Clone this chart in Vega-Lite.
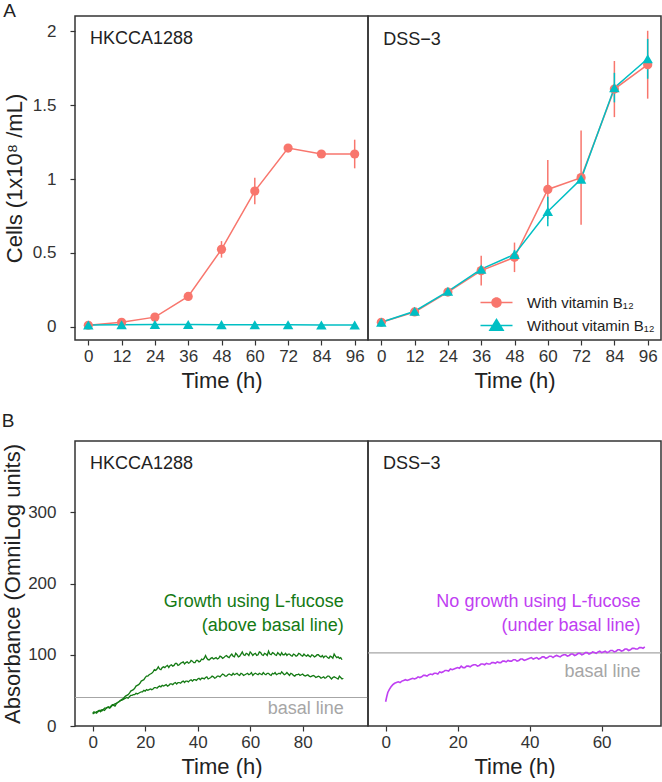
{
  "$schema": "https://vega.github.io/schema/vega-lite/v6.json",
  "padding": {"left": 0, "top": 1, "right": 0, "bottom": 0},
  "columns": 2,
  "spacing": {"row": 101, "column": 0},
  "bounds": "flush",
  "resolve": {"scale": {"x": "independent", "y": "independent", "color": "independent", "shape": "independent"}},
  "datasets": {
    "growth": [
      {"strain": "HKCCA1288", "series": "With vitamin B₁₂", "t": 0, "cells": 0.01, "sd": 0.005},
      {"strain": "HKCCA1288", "series": "With vitamin B₁₂", "t": 12, "cells": 0.03, "sd": 0.01},
      {"strain": "HKCCA1288", "series": "With vitamin B₁₂", "t": 24, "cells": 0.065, "sd": 0.01},
      {"strain": "HKCCA1288", "series": "With vitamin B₁₂", "t": 36, "cells": 0.205, "sd": 0.01},
      {"strain": "HKCCA1288", "series": "With vitamin B₁₂", "t": 48, "cells": 0.524, "sd": 0.056},
      {"strain": "HKCCA1288", "series": "With vitamin B₁₂", "t": 60, "cells": 0.919, "sd": 0.09},
      {"strain": "HKCCA1288", "series": "With vitamin B₁₂", "t": 72, "cells": 1.21, "sd": 0.01},
      {"strain": "HKCCA1288", "series": "With vitamin B₁₂", "t": 84, "cells": 1.17, "sd": 0.01},
      {"strain": "HKCCA1288", "series": "With vitamin B₁₂", "t": 96, "cells": 1.17, "sd": 0.097},
      {"strain": "HKCCA1288", "series": "Without vitamin B₁₂", "t": 0, "cells": 0.012, "sd": 0.003},
      {"strain": "HKCCA1288", "series": "Without vitamin B₁₂", "t": 12, "cells": 0.013, "sd": 0.003},
      {"strain": "HKCCA1288", "series": "Without vitamin B₁₂", "t": 24, "cells": 0.015, "sd": 0.003},
      {"strain": "HKCCA1288", "series": "Without vitamin B₁₂", "t": 36, "cells": 0.015, "sd": 0.003},
      {"strain": "HKCCA1288", "series": "Without vitamin B₁₂", "t": 48, "cells": 0.014, "sd": 0.003},
      {"strain": "HKCCA1288", "series": "Without vitamin B₁₂", "t": 60, "cells": 0.013, "sd": 0.003},
      {"strain": "HKCCA1288", "series": "Without vitamin B₁₂", "t": 72, "cells": 0.013, "sd": 0.003},
      {"strain": "HKCCA1288", "series": "Without vitamin B₁₂", "t": 84, "cells": 0.012, "sd": 0.003},
      {"strain": "HKCCA1288", "series": "Without vitamin B₁₂", "t": 96, "cells": 0.012, "sd": 0.003},
      {"strain": "DSS-3", "series": "With vitamin B₁₂", "t": 0, "cells": 0.03, "sd": 0.01},
      {"strain": "DSS-3", "series": "With vitamin B₁₂", "t": 12, "cells": 0.1, "sd": 0.01},
      {"strain": "DSS-3", "series": "With vitamin B₁₂", "t": 24, "cells": 0.235, "sd": 0.02},
      {"strain": "DSS-3", "series": "With vitamin B₁₂", "t": 36, "cells": 0.38, "sd": 0.1},
      {"strain": "DSS-3", "series": "With vitamin B₁₂", "t": 48, "cells": 0.47, "sd": 0.1},
      {"strain": "DSS-3", "series": "With vitamin B₁₂", "t": 60, "cells": 0.93, "sd": 0.2},
      {"strain": "DSS-3", "series": "With vitamin B₁₂", "t": 72, "cells": 1.01, "sd": 0.32},
      {"strain": "DSS-3", "series": "With vitamin B₁₂", "t": 84, "cells": 1.61, "sd": 0.19},
      {"strain": "DSS-3", "series": "With vitamin B₁₂", "t": 96, "cells": 1.775, "sd": 0.23},
      {"strain": "DSS-3", "series": "Without vitamin B₁₂", "t": 0, "cells": 0.03, "sd": 0.01},
      {"strain": "DSS-3", "series": "Without vitamin B₁₂", "t": 12, "cells": 0.105, "sd": 0.01},
      {"strain": "DSS-3", "series": "Without vitamin B₁₂", "t": 24, "cells": 0.24, "sd": 0.02},
      {"strain": "DSS-3", "series": "Without vitamin B₁₂", "t": 36, "cells": 0.39, "sd": 0.02},
      {"strain": "DSS-3", "series": "Without vitamin B₁₂", "t": 48, "cells": 0.49, "sd": 0.03},
      {"strain": "DSS-3", "series": "Without vitamin B₁₂", "t": 60, "cells": 0.78, "sd": 0.1},
      {"strain": "DSS-3", "series": "Without vitamin B₁₂", "t": 72, "cells": 1.0, "sd": 0.02},
      {"strain": "DSS-3", "series": "Without vitamin B₁₂", "t": 84, "cells": 1.62, "sd": 0.1},
      {"strain": "DSS-3", "series": "Without vitamin B₁₂", "t": 96, "cells": 1.815, "sd": 0.135}
    ],
    "hkB": [
      {"rep":"a","t":0,"v":18},{"rep":"a","t":1,"v":19},{"rep":"a","t":2,"v":21},{"rep":"a","t":3,"v":20},{"rep":"a","t":4,"v":23},{"rep":"a","t":5,"v":24},{"rep":"a","t":6,"v":26},{"rep":"a","t":7,"v":27},{"rep":"a","t":8,"v":29},{"rep":"a","t":9,"v":31},
      {"rep":"a","t":10,"v":34},{"rep":"a","t":11,"v":37},{"rep":"a","t":12,"v":40},{"rep":"a","t":13,"v":43},{"rep":"a","t":14,"v":46},{"rep":"a","t":15,"v":50},{"rep":"a","t":16,"v":53},{"rep":"a","t":17,"v":57},{"rep":"a","t":18,"v":60},{"rep":"a","t":19,"v":64},
      {"rep":"a","t":20,"v":68},{"rep":"a","t":21,"v":70},{"rep":"a","t":22,"v":73},{"rep":"a","t":23,"v":76},{"rep":"a","t":24,"v":78},{"rep":"a","t":25,"v":83},{"rep":"a","t":26,"v":79},{"rep":"a","t":27,"v":83},{"rep":"a","t":28,"v":84},{"rep":"a","t":29,"v":82},
      {"rep":"a","t":30,"v":86},{"rep":"a","t":31,"v":85},{"rep":"a","t":32,"v":88},{"rep":"a","t":33,"v":86},{"rep":"a","t":34,"v":89},{"rep":"a","t":35,"v":87},{"rep":"a","t":36,"v":90},{"rep":"a","t":37,"v":89},{"rep":"a","t":38,"v":91},{"rep":"a","t":39,"v":89},
      {"rep":"a","t":40,"v":92},{"rep":"a","t":41,"v":91},{"rep":"a","t":42,"v":93},{"rep":"a","t":43,"v":99},{"rep":"a","t":44,"v":93},{"rep":"a","t":45,"v":95},{"rep":"a","t":46,"v":94},{"rep":"a","t":47,"v":96},{"rep":"a","t":48,"v":95},{"rep":"a","t":49,"v":97},
      {"rep":"a","t":50,"v":96},{"rep":"a","t":51,"v":99},{"rep":"a","t":52,"v":96},{"rep":"a","t":53,"v":101},{"rep":"a","t":54,"v":97},{"rep":"a","t":55,"v":100},{"rep":"a","t":56,"v":98},{"rep":"a","t":57,"v":104},{"rep":"a","t":58,"v":99},{"rep":"a","t":59,"v":101},
      {"rep":"a","t":60,"v":104},{"rep":"a","t":61,"v":99},{"rep":"a","t":62,"v":102},{"rep":"a","t":63,"v":100},{"rep":"a","t":64,"v":103},{"rep":"a","t":65,"v":99},{"rep":"a","t":66,"v":101},{"rep":"a","t":67,"v":105},{"rep":"a","t":68,"v":100},{"rep":"a","t":69,"v":102},
      {"rep":"a","t":70,"v":99},{"rep":"a","t":71,"v":101},{"rep":"a","t":72,"v":103},{"rep":"a","t":73,"v":100},{"rep":"a","t":74,"v":99},{"rep":"a","t":75,"v":101},{"rep":"a","t":76,"v":98},{"rep":"a","t":77,"v":100},{"rep":"a","t":78,"v":99},{"rep":"a","t":79,"v":101},
      {"rep":"a","t":80,"v":98},{"rep":"a","t":81,"v":99},{"rep":"a","t":82,"v":100},{"rep":"a","t":83,"v":97},{"rep":"a","t":84,"v":99},{"rep":"a","t":85,"v":98},{"rep":"a","t":86,"v":100},{"rep":"a","t":87,"v":97},{"rep":"a","t":88,"v":96},{"rep":"a","t":89,"v":98},
      {"rep":"a","t":90,"v":95},{"rep":"a","t":91,"v":97},{"rep":"a","t":92,"v":101},{"rep":"a","t":93,"v":96},{"rep":"a","t":94,"v":95},{"rep":"a","t":95,"v":93},
      {"rep":"a","t":0.5,"v":20},{"rep":"a","t":1.5,"v":18},{"rep":"a","t":2.5,"v":22},{"rep":"a","t":3.5,"v":23},{"rep":"a","t":4.5,"v":22},{"rep":"a","t":5.5,"v":26},{"rep":"a","t":6.5,"v":25},{"rep":"a","t":7.5,"v":29},{"rep":"a","t":8.5,"v":28},{"rep":"a","t":9.5,"v":33},
      {"rep":"a","t":10.5,"v":35},{"rep":"a","t":11.5,"v":38},{"rep":"a","t":12.5,"v":42},{"rep":"a","t":13.5,"v":44},{"rep":"a","t":14.5,"v":49},{"rep":"a","t":15.5,"v":51},{"rep":"a","t":16.5,"v":56},{"rep":"a","t":17.5,"v":58},{"rep":"a","t":18.5,"v":63},{"rep":"a","t":19.5,"v":65},
      {"rep":"a","t":20.5,"v":70},{"rep":"a","t":21.5,"v":72},{"rep":"a","t":22.5,"v":74},{"rep":"a","t":23.5,"v":79},{"rep":"a","t":24.5,"v":80},{"rep":"a","t":25.5,"v":80},{"rep":"a","t":26.5,"v":82},{"rep":"a","t":27.5,"v":82},{"rep":"a","t":28.5,"v":85},{"rep":"a","t":29.5,"v":85},
      {"rep":"a","t":30.5,"v":84},{"rep":"a","t":31.5,"v":88},{"rep":"a","t":32.5,"v":85},{"rep":"a","t":33.5,"v":88},{"rep":"a","t":34.5,"v":90},{"rep":"a","t":35.5,"v":89},{"rep":"a","t":36.5,"v":88},{"rep":"a","t":37.5,"v":92},{"rep":"a","t":38.5,"v":89},{"rep":"a","t":39.5,"v":92},
      {"rep":"a","t":40.5,"v":90},{"rep":"a","t":41.5,"v":94},{"rep":"a","t":42.5,"v":95},{"rep":"a","t":43.5,"v":95},{"rep":"a","t":44.5,"v":93},{"rep":"a","t":45.5,"v":96},{"rep":"a","t":46.5,"v":95},{"rep":"a","t":47.5,"v":94},{"rep":"a","t":48.5,"v":98},{"rep":"a","t":49.5,"v":95},
      {"rep":"a","t":50.5,"v":98},{"rep":"a","t":51.5,"v":97},{"rep":"a","t":52.5,"v":99},{"rep":"a","t":53.5,"v":98},{"rep":"a","t":54.5,"v":102},{"rep":"a","t":55.5,"v":97},{"rep":"a","t":56.5,"v":101},{"rep":"a","t":57.5,"v":100},{"rep":"a","t":58.5,"v":102},{"rep":"a","t":59.5,"v":99},
      {"rep":"a","t":60.5,"v":102},{"rep":"a","t":61.5,"v":101},{"rep":"a","t":62.5,"v":99},{"rep":"a","t":63.5,"v":104},{"rep":"a","t":64.5,"v":100},{"rep":"a","t":65.5,"v":102},{"rep":"a","t":66.5,"v":99},{"rep":"a","t":67.5,"v":101},{"rep":"a","t":68.5,"v":103},{"rep":"a","t":69.5,"v":100},
      {"rep":"a","t":70.5,"v":103},{"rep":"a","t":71.5,"v":99},{"rep":"a","t":72.5,"v":100},{"rep":"a","t":73.5,"v":102},{"rep":"a","t":74.5,"v":101},{"rep":"a","t":75.5,"v":99},{"rep":"a","t":76.5,"v":101},{"rep":"a","t":77.5,"v":98},{"rep":"a","t":78.5,"v":102},{"rep":"a","t":79.5,"v":99},
      {"rep":"a","t":80.5,"v":101},{"rep":"a","t":81.5,"v":98},{"rep":"a","t":82.5,"v":98},{"rep":"a","t":83.5,"v":100},{"rep":"a","t":84.5,"v":97},{"rep":"a","t":85.5,"v":100},{"rep":"a","t":86.5,"v":98},{"rep":"a","t":87.5,"v":99},{"rep":"a","t":88.5,"v":98},{"rep":"a","t":89.5,"v":96},
      {"rep":"a","t":90.5,"v":98},{"rep":"a","t":91.5,"v":95},{"rep":"a","t":92.5,"v":98},{"rep":"a","t":93.5,"v":97},{"rep":"a","t":94.5,"v":96},
      {"rep":"b","t":0,"v":17},{"rep":"b","t":1,"v":19},{"rep":"b","t":2,"v":20},{"rep":"b","t":3,"v":22},{"rep":"b","t":4,"v":23},{"rep":"b","t":5,"v":25},{"rep":"b","t":6,"v":27},{"rep":"b","t":7,"v":28},{"rep":"b","t":8,"v":30},{"rep":"b","t":9,"v":32},
      {"rep":"b","t":10,"v":34},{"rep":"b","t":11,"v":36},{"rep":"b","t":12,"v":38},{"rep":"b","t":13,"v":40},{"rep":"b","t":14,"v":41},{"rep":"b","t":15,"v":43},{"rep":"b","t":16,"v":44},{"rep":"b","t":17,"v":45},{"rep":"b","t":18,"v":47},{"rep":"b","t":19,"v":48},
      {"rep":"b","t":20,"v":49},{"rep":"b","t":21,"v":50},{"rep":"b","t":22,"v":52},{"rep":"b","t":23,"v":52},{"rep":"b","t":24,"v":54},{"rep":"b","t":25,"v":55},{"rep":"b","t":26,"v":55},{"rep":"b","t":27,"v":56},{"rep":"b","t":28,"v":58},{"rep":"b","t":29,"v":57},
      {"rep":"b","t":30,"v":59},{"rep":"b","t":31,"v":60},{"rep":"b","t":32,"v":59},{"rep":"b","t":33,"v":61},{"rep":"b","t":34,"v":62},{"rep":"b","t":35,"v":61},{"rep":"b","t":36,"v":63},{"rep":"b","t":37,"v":64},{"rep":"b","t":38,"v":63},{"rep":"b","t":39,"v":65},
      {"rep":"b","t":40,"v":66},{"rep":"b","t":41,"v":65},{"rep":"b","t":42,"v":67},{"rep":"b","t":43,"v":68},{"rep":"b","t":44,"v":66},{"rep":"b","t":45,"v":68},{"rep":"b","t":46,"v":69},{"rep":"b","t":47,"v":68},{"rep":"b","t":48,"v":70},{"rep":"b","t":49,"v":71},
      {"rep":"b","t":50,"v":72},{"rep":"b","t":51,"v":70},{"rep":"b","t":52,"v":73},{"rep":"b","t":53,"v":71},{"rep":"b","t":54,"v":72},{"rep":"b","t":55,"v":74},{"rep":"b","t":56,"v":71},{"rep":"b","t":57,"v":73},{"rep":"b","t":58,"v":72},{"rep":"b","t":59,"v":74},
      {"rep":"b","t":60,"v":73},{"rep":"b","t":61,"v":71},{"rep":"b","t":62,"v":74},{"rep":"b","t":63,"v":72},{"rep":"b","t":64,"v":73},{"rep":"b","t":65,"v":75},{"rep":"b","t":66,"v":72},{"rep":"b","t":67,"v":74},{"rep":"b","t":68,"v":71},{"rep":"b","t":69,"v":73},
      {"rep":"b","t":70,"v":72},{"rep":"b","t":71,"v":74},{"rep":"b","t":72,"v":76},{"rep":"b","t":73,"v":72},{"rep":"b","t":74,"v":75},{"rep":"b","t":75,"v":71},{"rep":"b","t":76,"v":73},{"rep":"b","t":77,"v":70},{"rep":"b","t":78,"v":72},{"rep":"b","t":79,"v":71},
      {"rep":"b","t":80,"v":73},{"rep":"b","t":81,"v":70},{"rep":"b","t":82,"v":72},{"rep":"b","t":83,"v":69},{"rep":"b","t":84,"v":71},{"rep":"b","t":85,"v":68},{"rep":"b","t":86,"v":70},{"rep":"b","t":87,"v":67},{"rep":"b","t":88,"v":69},{"rep":"b","t":89,"v":68},
      {"rep":"b","t":90,"v":70},{"rep":"b","t":91,"v":66},{"rep":"b","t":92,"v":69},{"rep":"b","t":93,"v":67},{"rep":"b","t":94,"v":70},{"rep":"b","t":95,"v":66},
      {"rep":"b","t":0.5,"v":18},{"rep":"b","t":1.5,"v":20},{"rep":"b","t":2.5,"v":21},{"rep":"b","t":3.5,"v":21},{"rep":"b","t":4.5,"v":25},{"rep":"b","t":5.5,"v":26},{"rep":"b","t":6.5,"v":26},{"rep":"b","t":7.5,"v":30},{"rep":"b","t":8.5,"v":31},{"rep":"b","t":9.5,"v":33},
      {"rep":"b","t":10.5,"v":36},{"rep":"b","t":11.5,"v":37},{"rep":"b","t":12.5,"v":39},{"rep":"b","t":13.5,"v":39},{"rep":"b","t":14.5,"v":43},{"rep":"b","t":15.5,"v":44},{"rep":"b","t":16.5,"v":46},{"rep":"b","t":17.5,"v":46},{"rep":"b","t":18.5,"v":48},{"rep":"b","t":19.5,"v":50},
      {"rep":"b","t":20.5,"v":51},{"rep":"b","t":21.5,"v":51},{"rep":"b","t":22.5,"v":51},{"rep":"b","t":23.5,"v":54},{"rep":"b","t":24.5,"v":53},{"rep":"b","t":25.5,"v":56},{"rep":"b","t":26.5,"v":57},{"rep":"b","t":27.5,"v":57},{"rep":"b","t":28.5,"v":56},{"rep":"b","t":29.5,"v":59},
      {"rep":"b","t":30.5,"v":58},{"rep":"b","t":31.5,"v":61},{"rep":"b","t":32.5,"v":61},{"rep":"b","t":33.5,"v":60},{"rep":"b","t":34.5,"v":63},{"rep":"b","t":35.5,"v":63},{"rep":"b","t":36.5,"v":62},{"rep":"b","t":37.5,"v":65},{"rep":"b","t":38.5,"v":65},{"rep":"b","t":39.5,"v":64},
      {"rep":"b","t":40.5,"v":67},{"rep":"b","t":41.5,"v":67},{"rep":"b","t":42.5,"v":66},{"rep":"b","t":43.5,"v":69},{"rep":"b","t":44.5,"v":67},{"rep":"b","t":45.5,"v":70},{"rep":"b","t":46.5,"v":67},{"rep":"b","t":47.5,"v":70},{"rep":"b","t":48.5,"v":69},{"rep":"b","t":49.5,"v":73},
      {"rep":"b","t":50.5,"v":70},{"rep":"b","t":51.5,"v":72},{"rep":"b","t":52.5,"v":72},{"rep":"b","t":53.5,"v":74},{"rep":"b","t":54.5,"v":73},{"rep":"b","t":55.5,"v":72},{"rep":"b","t":56.5,"v":74},{"rep":"b","t":57.5,"v":71},{"rep":"b","t":58.5,"v":73},{"rep":"b","t":59.5,"v":72},
      {"rep":"b","t":60.5,"v":75},{"rep":"b","t":61.5,"v":73},{"rep":"b","t":62.5,"v":73},{"rep":"b","t":63.5,"v":74},{"rep":"b","t":64.5,"v":72},{"rep":"b","t":65.5,"v":73},{"rep":"b","t":66.5,"v":74},{"rep":"b","t":67.5,"v":72},{"rep":"b","t":68.5,"v":74},{"rep":"b","t":69.5,"v":75},
      {"rep":"b","t":70.5,"v":73},{"rep":"b","t":71.5,"v":73},{"rep":"b","t":72.5,"v":74},{"rep":"b","t":73.5,"v":73},{"rep":"b","t":74.5,"v":73},{"rep":"b","t":75.5,"v":74},{"rep":"b","t":76.5,"v":71},{"rep":"b","t":77.5,"v":72},{"rep":"b","t":78.5,"v":73},{"rep":"b","t":79.5,"v":72},
      {"rep":"b","t":80.5,"v":71},{"rep":"b","t":81.5,"v":71},{"rep":"b","t":82.5,"v":70},{"rep":"b","t":83.5,"v":70},{"rep":"b","t":84.5,"v":70},{"rep":"b","t":85.5,"v":69},{"rep":"b","t":86.5,"v":69},{"rep":"b","t":87.5,"v":68},{"rep":"b","t":88.5,"v":67},{"rep":"b","t":89.5,"v":70},
      {"rep":"b","t":90.5,"v":68},{"rep":"b","t":91.5,"v":68},{"rep":"b","t":92.5,"v":68},{"rep":"b","t":93.5,"v":66},{"rep":"b","t":94.5,"v":68},{"rep":"b","t":95.5,"v":67}
    ],
    "dssB": [
      {"t":0,"v":34},{"t":0.3,"v":41},{"t":0.6,"v":47},{"t":1,"v":51},{"t":1.5,"v":55},{"t":2,"v":58},{"t":3,"v":61},{"t":4,"v":61},{"t":5,"v":64},{"t":6,"v":64},
      {"t":7,"v":66},{"t":8,"v":66},{"t":9,"v":69},{"t":10,"v":69},{"t":11,"v":71},{"t":12,"v":72},{"t":13,"v":72},{"t":14,"v":74},{"t":15,"v":76},{"t":16,"v":76},
      {"t":17,"v":78},{"t":18,"v":80},{"t":19,"v":80},{"t":20,"v":82},{"t":21,"v":84},{"t":22,"v":82},{"t":23,"v":84},{"t":24,"v":85},{"t":25,"v":86},{"t":26,"v":85},
      {"t":27,"v":87},{"t":28,"v":88},{"t":29,"v":87},{"t":30,"v":89},{"t":31,"v":90},{"t":32,"v":89},{"t":33,"v":91},{"t":34,"v":92},{"t":35,"v":91},{"t":36,"v":93},
      {"t":37,"v":92},{"t":38,"v":94},{"t":39,"v":93},{"t":40,"v":95},{"t":41,"v":94},{"t":42,"v":96},{"t":43,"v":95},{"t":44,"v":97},{"t":45,"v":96},{"t":46,"v":98},
      {"t":47,"v":98},{"t":48,"v":98},{"t":49,"v":99},{"t":50,"v":100},{"t":51,"v":99},{"t":52,"v":101},{"t":53,"v":100},{"t":54,"v":102},{"t":55,"v":101},{"t":56,"v":103},
      {"t":57,"v":102},{"t":58,"v":103},{"t":59,"v":104},{"t":60,"v":103},{"t":61,"v":105},{"t":62,"v":104},{"t":63,"v":106},{"t":64,"v":105},{"t":65,"v":107},{"t":66,"v":106},
      {"t":67,"v":108},{"t":68,"v":107},{"t":69,"v":109},{"t":70,"v":108},{"t":71,"v":110},{"t":72,"v":111},
      {"t":2.5,"v":60},{"t":3.5,"v":62},{"t":4.5,"v":63},{"t":5.5,"v":65},{"t":6.5,"v":65},{"t":7.5,"v":67},{"t":8.5,"v":67},{"t":9.5,"v":68},{"t":10.5,"v":71},{"t":11.5,"v":70},
      {"t":12.5,"v":73},{"t":13.5,"v":74},{"t":14.5,"v":73},{"t":15.5,"v":75},{"t":16.5,"v":78},{"t":17.5,"v":77},{"t":18.5,"v":79},{"t":19.5,"v":81},{"t":20.5,"v":81},{"t":21.5,"v":82},
      {"t":22.5,"v":84},{"t":23.5,"v":83},{"t":24.5,"v":86},{"t":25.5,"v":84},{"t":26.5,"v":87},{"t":27.5,"v":86},{"t":28.5,"v":87},{"t":29.5,"v":89},{"t":30.5,"v":88},{"t":31.5,"v":89},
      {"t":32.5,"v":91},{"t":33.5,"v":90},{"t":34.5,"v":91},{"t":35.5,"v":93},{"t":36.5,"v":91},{"t":37.5,"v":94},{"t":38.5,"v":92},{"t":39.5,"v":94},{"t":40.5,"v":96},{"t":41.5,"v":95},
      {"t":42.5,"v":94},{"t":43.5,"v":97},{"t":44.5,"v":95},{"t":45.5,"v":98},{"t":46.5,"v":96},{"t":47.5,"v":99},{"t":48.5,"v":97},{"t":49.5,"v":100},{"t":50.5,"v":98},{"t":51.5,"v":101},
      {"t":52.5,"v":99},{"t":53.5,"v":102},{"t":54.5,"v":100},{"t":55.5,"v":103},{"t":56.5,"v":101},{"t":57.5,"v":104},{"t":58.5,"v":102},{"t":59.5,"v":105},{"t":60.5,"v":104},{"t":61.5,"v":103},
      {"t":62.5,"v":106},{"t":63.5,"v":104},{"t":64.5,"v":107},{"t":65.5,"v":105},{"t":66.5,"v":108},{"t":67.5,"v":106},{"t":68.5,"v":109},{"t":69.5,"v":108},{"t":70.5,"v":110},{"t":71.5,"v":109}
    ]
  },
  "concat": [
    {
      "width": 293, "height": 324,
      "title": {"text": "A", "offset": -5},
      "layer": [
        {
          "data": {"name": "growth"},
          "transform": [{"filter": "datum.strain === 'HKCCA1288'"}],
          "encoding": {
            "x": {"field": "t", "type": "quantitative", "scale": {"domain": [-4.8, 100.8], "nice": false, "zero": false}, "axis": {"values": [0, 12, 24, 36, 48, 60, 72, 84, 96], "title": "Time (h)", "labelOverlap": false}},
            "y": {"field": "cells", "type": "quantitative", "scale": {"domain": [-0.09, 2.105], "nice": false, "zero": false}, "axis": {"values": [0, 0.5, 1, 1.5, 2], "format": "~g", "title": "Cells (1x10⁸ /mL)", "titlePadding": 6}},
            "color": {"field": "series", "type": "nominal", "scale": {"domain": ["With vitamin B₁₂", "Without vitamin B₁₂"], "range": ["#F8766D", "#00BFC4"]}, "legend": null}
          },
          "layer": [
            {"mark": {"type": "line", "strokeWidth": 1.5}},
            {"mark": {"type": "errorbar", "thickness": 1.5}, "encoding": {"yError": {"field": "sd"}}},
            {"transform": [{"filter": "datum.series === 'With vitamin B₁₂'"}], "mark": {"type": "point", "shape": "circle", "filled": true, "size": 85, "opacity": 1}},
            {"transform": [{"filter": "datum.series === 'Without vitamin B₁₂'"}], "mark": {"type": "point", "shape": "triangle-up", "filled": true, "size": 110, "opacity": 1}}
          ]
        },
        {
          "data": {"values": [{}]},
          "mark": {"type": "text", "text": "HKCCA1288", "fontSize": 18, "align": "left", "baseline": "middle", "color": "#222222"},
          "encoding": {
            "x": {"datum": 0.6, "type": "quantitative", "axis": {"values": [0, 12, 24, 36, 48, 60, 72, 84, 96], "title": "Time (h)", "labelOverlap": false}},
            "y": {"datum": 1.95, "type": "quantitative", "axis": {"values": [0, 0.5, 1, 1.5, 2], "format": "~g", "title": "Cells (1x10⁸ /mL)", "titlePadding": 6}}
          }
        }
      ]
    },
    {
      "width": 293, "height": 324,
      "layer": [
        {
          "data": {"name": "growth"},
          "transform": [{"filter": "datum.strain === 'DSS-3'"}],
          "encoding": {
            "x": {"field": "t", "type": "quantitative", "scale": {"domain": [-4.8, 100.8], "nice": false, "zero": false}, "axis": {"values": [0, 12, 24, 36, 48, 60, 72, 84, 96], "title": "Time (h)", "labelOverlap": false}},
            "y": {"field": "cells", "type": "quantitative", "scale": {"domain": [-0.09, 2.105], "nice": false, "zero": false}, "axis": null},
            "color": {"field": "series", "type": "nominal", "scale": {"domain": ["With vitamin B₁₂", "Without vitamin B₁₂"], "range": ["#F8766D", "#00BFC4"]},
              "legend": {"orient": "bottom-right", "title": null, "labelFontSize": 15, "labelColor": "#222222", "symbolStrokeWidth": 0, "labelOffset": 23, "rowPadding": 7, "offset": 4, "padding": 2}}
          },
          "layer": [
            {"mark": {"type": "line", "strokeWidth": 1.5}},
            {"mark": {"type": "errorbar", "thickness": 1.5}, "encoding": {"yError": {"field": "sd"}}},
            {"transform": [{"filter": "datum.series === 'With vitamin B₁₂'"}], "mark": {"type": "point", "shape": "circle", "filled": true, "size": 85, "opacity": 1}},
            {"transform": [{"filter": "datum.series === 'Without vitamin B₁₂'"}], "mark": {"type": "point", "shape": "triangle-up", "filled": true, "size": 110, "opacity": 1}},
            {
              "transform": [{"filter": "false"}],
              "mark": {"type": "point", "filled": true, "size": 81, "opacity": 1},
              "encoding": {
                "shape": {"field": "series", "type": "nominal", "scale": {"domain": ["With vitamin B₁₂", "Without vitamin B₁₂"], "range": ["M-3.2,-0.17H3.2V0.17H-3.2Z M1.05,0A1.05,1.05 0 1 1 -1.05,0A1.05,1.05 0 1 1 1.05,0Z", "M-3.2,-0.17H3.2V0.17H-3.2Z M0,-1.5L1.6,1.1L-1.6,1.1Z"]},
                  "legend": {"orient": "bottom-right", "title": null, "labelFontSize": 15, "labelColor": "#222222", "symbolStrokeWidth": 0, "labelOffset": 23, "rowPadding": 7, "offset": 4, "padding": 2}}
              }
            }
          ]
        },
        {
          "data": {"values": [{}]},
          "mark": {"type": "text", "text": "DSS−3", "fontSize": 18, "align": "left", "baseline": "middle", "color": "#222222"},
          "encoding": {
            "x": {"datum": 0.7, "type": "quantitative", "axis": {"values": [0, 12, 24, 36, 48, 60, 72, 84, 96], "title": "Time (h)", "labelOverlap": false}},
            "y": {"datum": 1.94, "type": "quantitative", "axis": null}
          }
        }
      ]
    },
    {
      "width": 293, "height": 285,
      "title": {"text": "B", "offset": 10},
      "layer": [
        {
          "data": {"values": [{}]},
          "mark": {"type": "rule", "color": "#A6A6A6", "strokeWidth": 1.2},
          "encoding": {"y": {"datum": 40, "type": "quantitative"}}
        },
        {
          "data": {"name": "hkB"},
          "mark": {"type": "line", "color": "#147A14", "strokeWidth": 1.3},
          "encoding": {
            "x": {"field": "t", "type": "quantitative", "scale": {"domain": [-6.74, 104.9], "nice": false, "zero": false}, "axis": {"values": [0, 20, 40, 60, 80], "title": "Time (h)", "labelOverlap": false}},
            "y": {"field": "v", "type": "quantitative", "scale": {"domain": [0, 400], "nice": false, "zero": false}, "axis": {"values": [0, 100, 200, 300], "title": "Absorbance (OmniLog units)", "titlePadding": 3}},
            "detail": {"field": "rep", "type": "nominal"}
          }
        },
        {
          "data": {"values": [{}]},
          "mark": {"type": "text", "text": "HKCCA1288", "fontSize": 18, "align": "left", "baseline": "middle", "color": "#222222"},
          "encoding": {"x": {"datum": -1.0, "type": "quantitative"}, "y": {"datum": 367.8, "type": "quantitative"}}
        },
        {
          "data": {"values": [{}]},
          "mark": {"type": "text", "text": "Growth using L-fucose", "fontSize": 18, "align": "right", "baseline": "middle", "color": "#147A14"},
          "encoding": {"x": {"datum": 95.7, "type": "quantitative"}, "y": {"datum": 174, "type": "quantitative"}}
        },
        {
          "data": {"values": [{}]},
          "mark": {"type": "text", "text": "(above basal line)", "fontSize": 18, "align": "right", "baseline": "middle", "color": "#147A14"},
          "encoding": {"x": {"datum": 95.7, "type": "quantitative"}, "y": {"datum": 140.4, "type": "quantitative"}}
        },
        {
          "data": {"values": [{}]},
          "mark": {"type": "text", "text": "basal line", "fontSize": 18, "align": "right", "baseline": "middle", "color": "#A6A6A6"},
          "encoding": {"x": {"datum": 95.7, "type": "quantitative"}, "y": {"datum": 23.9, "type": "quantitative"}}
        }
      ]
    },
    {
      "width": 293, "height": 285,
      "layer": [
        {
          "data": {"values": [{}]},
          "mark": {"type": "rule", "color": "#A6A6A6", "strokeWidth": 1.2},
          "encoding": {"y": {"datum": 102.5, "type": "quantitative", "axis": null}}
        },
        {
          "data": {"name": "dssB"},
          "mark": {"type": "line", "color": "#BF40F2", "strokeWidth": 1.6},
          "encoding": {
            "x": {"field": "t", "type": "quantitative", "scale": {"domain": [-4.9, 76.5], "nice": false, "zero": false}, "axis": {"values": [0, 20, 40, 60], "title": "Time (h)", "labelOverlap": false}},
            "y": {"field": "v", "type": "quantitative", "scale": {"domain": [0, 400], "nice": false, "zero": false}, "axis": null}
          }
        },
        {
          "data": {"values": [{}]},
          "mark": {"type": "text", "text": "DSS−3", "fontSize": 18, "align": "left", "baseline": "middle", "color": "#222222"},
          "encoding": {"x": {"datum": -0.75, "type": "quantitative"}, "y": {"datum": 367.8, "type": "quantitative", "axis": null}}
        },
        {
          "data": {"values": [{}]},
          "mark": {"type": "text", "text": "No growth using L-fucose", "fontSize": 18, "align": "right", "baseline": "middle", "color": "#BF40F2"},
          "encoding": {"x": {"datum": 70.8, "type": "quantitative"}, "y": {"datum": 174, "type": "quantitative", "axis": null}}
        },
        {
          "data": {"values": [{}]},
          "mark": {"type": "text", "text": "(under basal line)", "fontSize": 18, "align": "right", "baseline": "middle", "color": "#BF40F2"},
          "encoding": {"x": {"datum": 70.8, "type": "quantitative"}, "y": {"datum": 140.4, "type": "quantitative", "axis": null}}
        },
        {
          "data": {"values": [{}]},
          "mark": {"type": "text", "text": "basal line", "fontSize": 18, "align": "right", "baseline": "middle", "color": "#A6A6A6"},
          "encoding": {"x": {"datum": 70.8, "type": "quantitative"}, "y": {"datum": 75.8, "type": "quantitative", "axis": null}}
        }
      ]
    }
  ],
  "config": {
    "font": "Liberation Sans",
    "background": "white",
    "view": {"stroke": "#333333", "strokeWidth": 1.5},
    "axis": {"grid": false, "domain": false, "tickColor": "#333333", "tickSize": 5, "tickWidth": 1.2, "labelFontSize": 17, "labelColor": "#333333", "titleFontSize": 22, "titleFontWeight": "normal", "titleColor": "#222222", "labelFlush": false, "labelOverlap": false},
    "axisY": {"labelPadding": 14},
    "axisX": {"labelPadding": 3, "titlePadding": 6},
    "title": {"fontSize": 19, "fontWeight": "normal", "anchor": "start", "frame": "bounds", "color": "#222222"}
  }
}
